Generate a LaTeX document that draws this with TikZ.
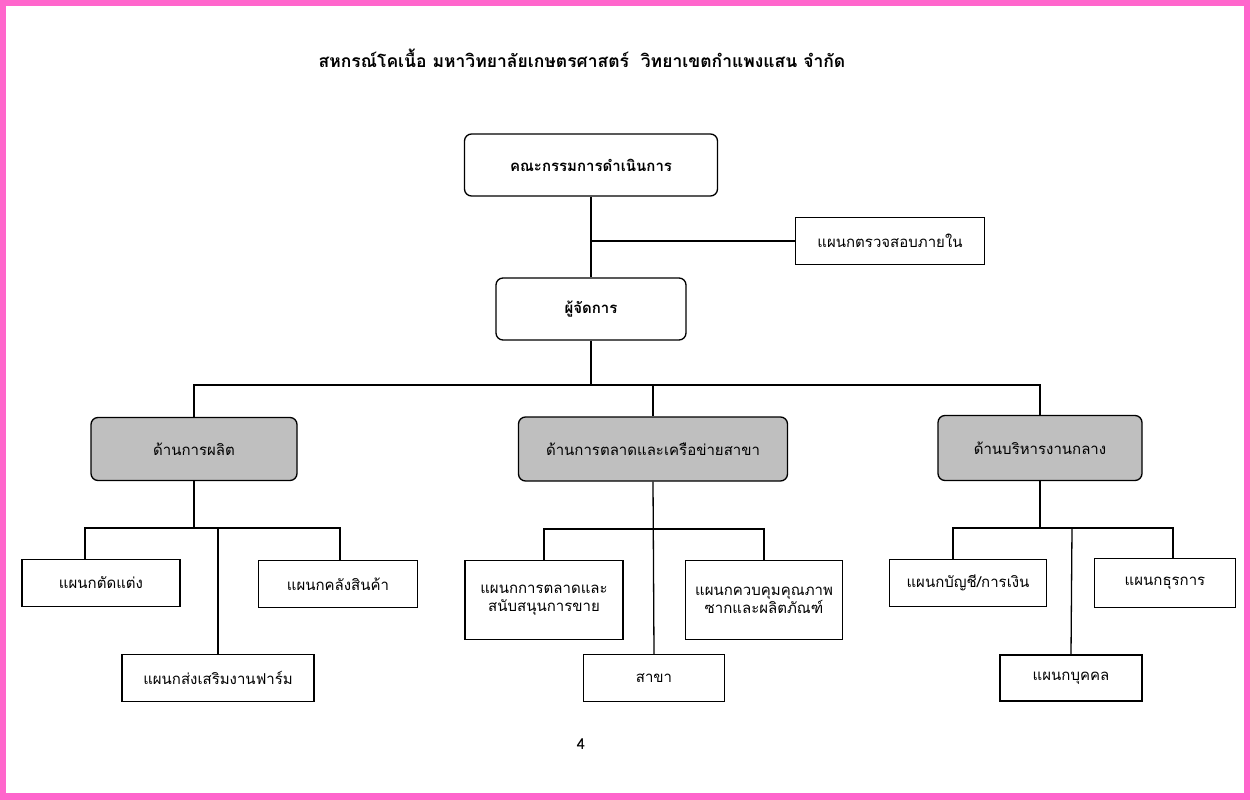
\documentclass[tikz,border=0pt]{standalone}
\usepackage{fontspec}
\newfontfamily\thaifont[Script=Thai]{Loma}
\usepackage{tikz}
\usetikzlibrary{positioning}
\definecolor{framepink}{RGB}{255,102,204}

\begin{document}
\begin{tikzpicture}[
						x=1pt, y=-1pt,
						every node/.style={font=\thaifont\fontsize{15}{18}\selectfont},
						topbox/.style={draw, line width=1.3pt, rounded corners=7pt, align=center, font=\thaifont\bfseries\fontsize{15}{18}\selectfont},
						sidebox/.style={draw, line width=1.3pt, rounded corners=7pt, fill=black!25, align=center},
						unitbox/.style={draw, line width=1.3pt, align=center},
						link/.style={draw, line width=1.3pt}
				]
    % frame
    \fill[framepink] (0,0) rectangle (1250,800);
    \fill[white] (6,6) rectangle (1244,793);

    \node (Title) at (582,58) {\bfseries\fontsize{17.5}{21}\selectfont สหกรณ์โคเนื้อ มหาวิทยาลัยเกษตรศาสตร์~~วิทยาเขตกำแพงแสน จำกัด};

    \node[topbox, minimum width=253pt, minimum height=62pt] (Board) at (591,165) {คณะกรรมการดำเนินการ};
    \node[unitbox, minimum width=189pt, minimum height=47pt] (Audit) at (890,241) {แผนกตรวจสอบภายใน};
    \node[topbox, minimum width=190pt, minimum height=62pt] (Manager) at (591,309) {ผู้จัดการ};

    \node[sidebox, minimum width=206pt, minimum height=63pt] (Production) at (194,449) {ด้านการผลิต};
    \node[sidebox, minimum width=269pt, minimum height=64pt] (Marketing) at (653,449) {ด้านการตลาดและเครือข่ายสาขา};
    \node[sidebox, minimum width=204pt, minimum height=65pt] (Admin) at (1040,448) {ด้านบริหารงานกลาง};

    \node[unitbox, minimum width=158pt, minimum height=47pt] (Trim) at (101,583) {แผนกตัดแต่ง};
    \node[unitbox, minimum width=159pt, minimum height=47pt] (Store) at (338,584) {แผนกคลังสินค้า};
    \node[unitbox, minimum width=192pt, minimum height=47pt] (Farm) at (218,678) {แผนกส่งเสริมงานฟาร์ม};

    \node[unitbox, minimum width=158pt, minimum height=79pt] (Promo) at (544,600) {แผนกการตลาดและ\\สนับสนุนการขาย};
    \node[unitbox, minimum width=157pt, minimum height=79pt] (Quality) at (764,600) {แผนกควบคุมคุณภาพ\\ซากและผลิตภัณฑ์};
    \node[unitbox, minimum width=141pt, minimum height=47pt] (Branch) at (654,678) {สาขา};

    \node[unitbox, minimum width=157pt, minimum height=47pt] (Account) at (968,583) {แผนกบัญชี/การเงิน};
    \node[unitbox, minimum width=141pt, minimum height=49pt] (Clerical) at (1165,583) {แผนกธุรการ};
    \node[unitbox, minimum width=142pt, minimum height=46pt] (Staff) at (1071,678) {แผนกบุคคล};

    \node (Page) at (581,744) {4};

    % top links
    \draw[link] (Board) -- (Manager);
    \draw[link] (Audit.west) -- (Audit.west -| Board.south);

    % bus under the manager
    \coordinate (bus) at (591,385);
    \draw[link] (Manager) -- (bus);
    \draw[link] (Production.north) |- (bus) -| (Admin.north);
    \draw[link] (Marketing.north) -- (Marketing.north |- bus);

    % production units
    \coordinate (busP) at (218,528);
    \draw[link] (Production.south) -- (Production.south |- busP);
    \draw[link] ([xshift=-16pt]Trim.north) |- (busP) -| ([xshift=2pt]Store.north);
    \draw[link] (busP) -- (Farm.north);

    % marketing units
    \coordinate (busM) at (655,529);
    \draw[link] (Promo.north) |- (busM) -| (Quality.north);
    \draw[link] (Marketing.south) -- (Branch.north);

    % admin units
    \coordinate (busA) at (1072,528);
    \draw[link] (Admin.south) -- (Admin.south |- busA);
    \draw[link] ([xshift=-15pt]Account.north) |- (busA) -| ([xshift=8pt]Clerical.north);
    \draw[link] (busA) -- (Staff.north);

  \end{tikzpicture}
\end{document}
